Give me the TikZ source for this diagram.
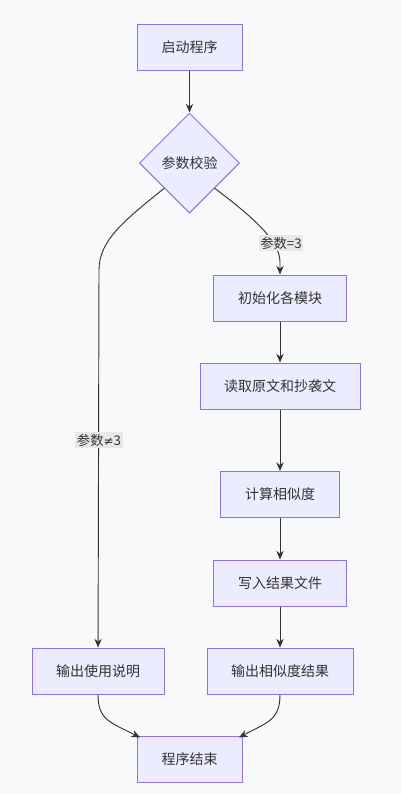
\documentclass[tikz,border=0pt]{standalone}
\usepackage{fontspec}
\setmainfont{Noto Sans CJK SC}
\newfontfamily\symfont{DejaVu Sans}
\usetikzlibrary{shapes.geometric,arrows.meta}
\definecolor{bg}{HTML}{F8F9FA}
\definecolor{nodefill}{HTML}{ECECFF}
\definecolor{nodeline}{HTML}{9370DB}
\definecolor{edgecol}{HTML}{333333}
\definecolor{lblbg}{HTML}{E8E8E8}
\begin{document}
\begin{tikzpicture}[x=0.75pt,y=-0.75pt,
  box/.style={draw=nodeline,fill=nodefill,line width=0.75pt,text=edgecol,font=\fontsize{10.5pt}{12pt}\selectfont,minimum height=34.5pt,inner sep=0pt},
  dia/.style={diamond,draw=nodeline,fill=nodefill,line width=0.75pt,text=edgecol,font=\fontsize{10.5pt}{12pt}\selectfont,minimum width=75pt,minimum height=75pt,inner sep=0pt},
  edge/.style={draw=edgecol,line width=0.7pt,-{Stealth[length=6.5pt,width=5.5pt]}},
  lbl/.style={fill=lblbg,text=edgecol,font=\fontsize{10pt}{12pt}\selectfont,inner sep=1.2pt}]
\fill[bg] (0,0) rectangle (401,794);
\useasboundingbox (0,0) rectangle (401,794);
\node[box,minimum width=78.75pt] (start) at (189.5,47) {启动程序};
\node[dia] (chk) at (189.5,163) {参数校验};
\node[box,minimum width=100pt] (init) at (280,298) {初始化各模块};
\node[box,minimum width=120pt] (read) at (280,386) {读取原文和抄袭文};
\node[box,minimum width=89pt] (calc) at (280,494.5) {计算相似度};
\node[box,minimum width=100pt] (write) at (280,583) {写入结果文件};
\node[box,minimum width=99pt] (usage) at (98,671) {输出使用说明};
\node[box,minimum width=109.5pt] (outp) at (280,671) {输出相似度结果};
\node[box,minimum width=78.75pt] (end) at (189.5,759.5) {程序结束};
\draw[edge] (start) -- (chk);
\draw[edge] (chk.south east) .. controls (250,215) and (280,240) .. (280,262) -- (init);
\node[lbl] (l1) at (281,243) {参数=3};
\draw[edge] (chk.south west) .. controls (125,220) and (99,240) .. (99,270) -- (usage);
\node[lbl] (l2) at (99,440) {参数{\symfont\fontsize{9pt}{12pt}\selectfont ≠}3};
\draw[edge] (init) -- (read);
\draw[edge] (read) -- (calc);
\draw[edge] (calc) -- (write);
\draw[edge] (write) -- (outp);
\draw[edge] (usage.south) .. controls (98,720) and (110,722) .. (140,737.5);
\draw[edge] (outp.south) .. controls (280,720) and (268,722) .. (239,737.5);
\end{tikzpicture}
\end{document}
